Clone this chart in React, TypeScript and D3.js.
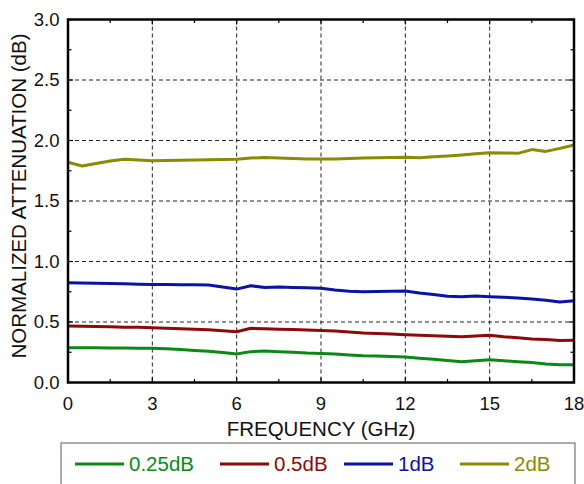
import React from 'react';
import * as d3 from 'd3';

const freqGHz = [
  0, 0.5, 1, 1.5, 2, 2.5, 3, 3.5, 4, 4.5, 5, 5.5, 6, 6.5, 7, 7.5, 8, 8.5, 9,
  9.5, 10, 10.5, 11, 11.5, 12, 12.5, 13, 13.5, 14, 14.5, 15, 15.5, 16, 16.5, 17, 17.5, 18,
];

const att025 = [
  0.288, 0.288, 0.287, 0.286, 0.285, 0.284, 0.283, 0.278, 0.272, 0.265, 0.258, 0.248, 0.235,
  0.255, 0.26, 0.255, 0.25, 0.243, 0.24, 0.235, 0.228, 0.222, 0.22, 0.215, 0.21, 0.2,
  0.192, 0.182, 0.172, 0.18, 0.188, 0.18, 0.172, 0.165, 0.152, 0.147, 0.146,
];

const att05 = [
  0.467, 0.465, 0.463, 0.46, 0.457, 0.456, 0.453, 0.448, 0.445, 0.44, 0.435, 0.428, 0.42,
  0.448, 0.445, 0.44, 0.437, 0.434, 0.43, 0.425, 0.418, 0.41, 0.405, 0.4, 0.395, 0.39,
  0.386, 0.382, 0.379, 0.385, 0.39, 0.378, 0.37, 0.36, 0.355, 0.348, 0.35,
];

const att1 = [
  0.825, 0.823, 0.82, 0.818, 0.816, 0.813, 0.81, 0.81, 0.808, 0.807, 0.806, 0.79, 0.772,
  0.8, 0.785, 0.79, 0.786, 0.783, 0.778, 0.765, 0.755, 0.75, 0.752, 0.755, 0.756, 0.74,
  0.728, 0.712, 0.708, 0.715, 0.709, 0.705, 0.698, 0.69, 0.68, 0.665, 0.676,
];

const att2 = [
  1.82, 1.789, 1.81, 1.83, 1.845, 1.838, 1.833, 1.835, 1.837, 1.838, 1.84, 1.842, 1.845,
  1.855, 1.86, 1.855, 1.852, 1.848, 1.847, 1.848, 1.852, 1.855, 1.857, 1.86, 1.861, 1.858,
  1.865, 1.872, 1.88, 1.89, 1.899, 1.897, 1.894, 1.925, 1.91, 1.935, 1.963,
];

const seriesNames = ['0.25dB', '0.5dB', '1dB', '2dB'];
const seriesColors = ['#0a8a14', '#8c0a0a', '#0a14a0', '#8c8a00'];
const seriesValues = [att025, att05, att1, att2];

const xTicks = [0, 3, 6, 9, 12, 15, 18];
const yTicks = [0, 0.5, 1, 1.5, 2, 2.5, 3];
// ————————————————————

const W = 584;
const H = 484;
const left = 68;
const right = 574;
const top = 19.5;
const bottom = 382.5;
const font = 'Arial, "Liberation Sans", sans-serif';

const x = d3.scaleLinear().domain([0, 18]).range([left, right]);
const y = d3.scaleLinear().domain([0, 3]).range([bottom, top]);

const line = d3
  .line<number>()
  .x((_, i) => x(freqGHz[i]))
  .y(d => y(d));

const xMinor = d3.range(0, 18.01, 1.5);
const yMinor = d3.range(0, 3.01, 0.25);

// legend slots, left edge of each line sample
const legendX = [75, 220, 344, 460];

export default function App() {
  return (
    <svg width={W} height={H} style={{ position: 'absolute', left: 0, top: 0, background: '#fff' }}>
      {/* grid */}
      <g stroke="#222" strokeWidth={1} strokeDasharray="4,3">
        {xTicks.slice(1, -1).map(t => (
          <line key={'gx' + t} x1={x(t)} x2={x(t)} y1={top} y2={bottom} />
        ))}
        {yTicks.slice(1, -1).map(t => (
          <line key={'gy' + t} x1={left} x2={right} y1={y(t)} y2={y(t)} />
        ))}
      </g>

      {/* minor / major ticks inside the frame */}
      <g stroke="#000" strokeWidth={1.2}>
        {xMinor.map(t => {
          const len = t % 3 === 0 ? 5 : 3.5;
          return (
            <g key={'tx' + t}>
              <line x1={x(t)} x2={x(t)} y1={bottom} y2={bottom - len} />
              <line x1={x(t)} x2={x(t)} y1={top} y2={top + len} />
            </g>
          );
        })}
        {yMinor.map(t => {
          const len = (t * 2) % 1 === 0 ? 5 : 3.5;
          return (
            <g key={'ty' + t}>
              <line x1={left} x2={left + len} y1={y(t)} y2={y(t)} />
              <line x1={right} x2={right - len} y1={y(t)} y2={y(t)} />
            </g>
          );
        })}
      </g>

      {/* series */}
      {seriesValues.map((vals, i) => (
        <path
          key={seriesNames[i]}
          d={line(vals) || ''}
          fill="none"
          stroke={seriesColors[i]}
          strokeWidth={3}
          strokeLinejoin="round"
        />
      ))}

      {/* frame */}
      <rect x={left} y={top} width={right - left} height={bottom - top} fill="none" stroke="#000" strokeWidth={2.5} />

      {/* tick labels */}
      <g fontFamily={font} fontSize={18.5} fill="#111">
        {xTicks.map(t => (
          <text key={'lx' + t} x={x(t)} y={410} textAnchor="middle">
            {t}
          </text>
        ))}
        {yTicks.map(t => (
          <text key={'ly' + t} x={59.5} y={y(t)} dy="0.35em" textAnchor="end">
            {t.toFixed(1)}
          </text>
        ))}
      </g>

      {/* axis titles */}
      <text x={(left + right) / 2} y={436} textAnchor="middle" fontFamily={font} fontSize={20.5} fill="#111">
        FREQUENCY (GHz)
      </text>
      <text
        transform={`translate(26,${(top + bottom) / 2 - 5}) rotate(-90)`}
        textAnchor="middle"
        fontFamily={font}
        fontSize={20.5}
        fill="#111"
      >
        NORMALIZED ATTENUATION (dB)
      </text>

      {/* legend */}
      <rect x={61} y={443} width={514} height={60} fill="#fff" stroke="#777" strokeWidth={1.2} />
      {seriesNames.map((name, i) => (
        <g key={'lg' + name}>
          <line x1={legendX[i]} x2={legendX[i] + 49} y1={464} y2={464} stroke={seriesColors[i]} strokeWidth={3} />
          <text x={legendX[i] + 54} y={471} fontFamily={font} fontSize={20.5} fill={seriesColors[i]}>
            {name}
          </text>
        </g>
      ))}
    </svg>
  );
}
